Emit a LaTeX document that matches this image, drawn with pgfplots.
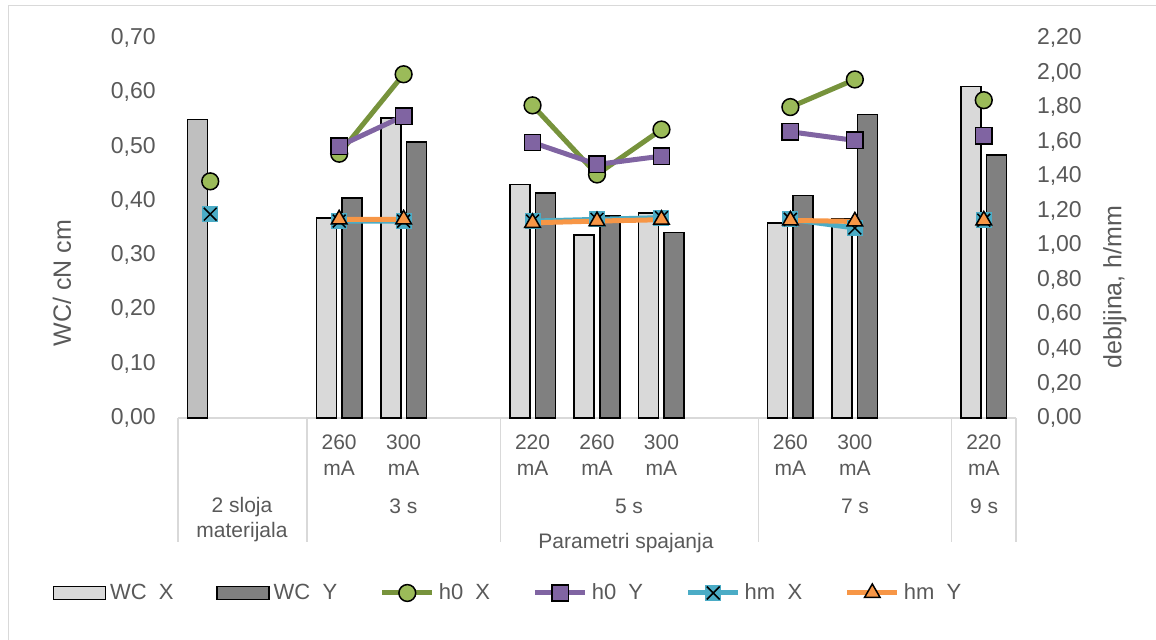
\documentclass[border=0pt]{standalone}
\usepackage{fontspec}
\setmainfont{Liberation Sans}
\usepackage{pgfplots}
\usepackage{pgfplotstable}
\pgfplotsset{compat=1.18}
\definecolor{txt}{HTML}{595959}
\definecolor{barL}{HTML}{D9D9D9}
\definecolor{barF}{HTML}{BFBFBF}
\definecolor{barD}{HTML}{808080}
\definecolor{grnL}{HTML}{77933C}
\definecolor{grnM}{HTML}{9BBB59}
\definecolor{pur}{HTML}{8064A2}
\definecolor{cya}{HTML}{4BACC6}
\definecolor{ora}{HTML}{F79646}
\definecolor{sep}{HTML}{D9D9D9}

\pgfdeclareplotmark{sqx}{%
  \pgfpathrectangle{\pgfqpoint{-\pgfplotmarksize}{-\pgfplotmarksize}}{\pgfqpoint{2\pgfplotmarksize}{2\pgfplotmarksize}}%
  \pgfusepathqfill
  \pgfpathmoveto{\pgfqpoint{-0.8\pgfplotmarksize}{-0.8\pgfplotmarksize}}%
  \pgfpathlineto{\pgfqpoint{0.8\pgfplotmarksize}{0.8\pgfplotmarksize}}%
  \pgfpathmoveto{\pgfqpoint{-0.8\pgfplotmarksize}{0.8\pgfplotmarksize}}%
  \pgfpathlineto{\pgfqpoint{0.8\pgfplotmarksize}{-0.8\pgfplotmarksize}}%
  \pgfusepathqstroke
}

\pgfplotstableread{
x   wcx    wcy    h0x   h0y    hmx    hmy
1   nan    nan    1.37  nan    1.18   nan
2   nan    nan    nan   nan    nan    nan
3   0.368  0.405  1.53  1.574  1.14   1.15
4   0.553  0.508  1.99  1.748  1.14   1.15
5   nan    nan    nan   nan    nan    nan
6   0.430  0.415  1.81  1.595  1.14   1.13
7   0.337  0.372  1.41  1.468  1.15   1.14
8   0.378  0.342  1.67  1.516  1.16   1.148
9   nan    nan    nan   nan    nan    nan
10  0.359  0.410  1.80  1.657  1.15   1.144
11  0.367  0.559  1.96  1.607  1.10   1.138
12  nan    nan    nan   nan    nan    nan
13  0.611  0.485  1.84  1.634  1.145  1.144
}\data

\begin{document}
\begin{tikzpicture}
\useasboundingbox (0,0) rectangle (578pt,320pt);
\draw[sep, line width=0.5pt] (4.25pt,0pt) -- (4.25pt,317.25pt) -- (578pt,317.25pt);

\begin{axis}[
  at={(89pt,111pt)}, anchor=south west,
  width=419pt, height=190pt, scale only axis,
  xmin=0.5, xmax=13.5, ymin=0, ymax=0.7,
  axis line style={draw=none},
  major tick length=0pt,
  ytick={0,0.1,0.2,0.3,0.4,0.5,0.6,0.7},
  yticklabel pos=left,
  yticklabel style={/pgf/number format/.cd, fixed, fixed zerofill, precision=2, use comma, assume math mode=true,
    /tikz/.cd, font=\fontsize{11.5}{13}\selectfont, text=txt, inner sep=0pt, anchor=east, xshift=-11pt},
  xtick={3,4,6,7,8,10,11,13},
  xticklabels={260\\mA,300\\mA,220\\mA,260\\mA,300\\mA,260\\mA,300\\mA,220\\mA},
  xticklabel style={align=center, font=\fontsize{10.5}{13}\selectfont, text=txt, inner sep=0pt, anchor=north, yshift=-8pt},
  clip=false,
  unbounded coords=discard,
]
\draw[sep, line width=0.6pt] (axis cs:0.5,0) -- (axis cs:13.5,0);
\draw[sep, line width=0.6pt] (axis cs:0.5,0) -- (axis cs:0.5,-0.2285);
\draw[sep, line width=0.6pt] (axis cs:2.5,0) -- (axis cs:2.5,-0.2285);
\draw[sep, line width=0.6pt] (axis cs:5.5,0) -- (axis cs:5.5,-0.2285);
\draw[sep, line width=0.6pt] (axis cs:9.5,0) -- (axis cs:9.5,-0.2285);
\draw[sep, line width=0.6pt] (axis cs:12.5,0) -- (axis cs:12.5,-0.2285);
\draw[sep, line width=0.6pt] (axis cs:13.5,0) -- (axis cs:13.5,-0.2285);
\addplot[ybar, bar width=10pt, bar shift=-6.4pt, fill=barF, draw=black, line width=0.8pt] coordinates {(1,0.55)};
\addplot[ybar, bar width=10pt, bar shift=-6.4pt, fill=barL, draw=black, line width=0.8pt] table[x=x, y=wcx] {\data};
\addplot[ybar, bar width=10pt, bar shift=6.4pt, fill=barD, draw=black, line width=0.8pt] table[x=x, y=wcy] {\data};
\end{axis}

\begin{axis}[
  at={(89pt,111pt)}, anchor=south west,
  width=419pt, height=190pt, scale only axis,
  xmin=0.5, xmax=13.5, ymin=0, ymax=2.2,
  axis line style={draw=none},
  major tick length=0pt,
  xtick=\empty,
  ytick={0,0.2,0.4,0.6,0.8,1.0,1.2,1.4,1.6,1.8,2.0,2.2},
  yticklabel pos=right,
  yticklabel style={/pgf/number format/.cd, fixed, fixed zerofill, precision=2, use comma, assume math mode=true,
    /tikz/.cd, font=\fontsize{11.5}{13}\selectfont, text=txt, inner sep=0pt, anchor=west, xshift=10.3pt},
  clip=false,
  unbounded coords=jump,
  legend columns=6,
  legend style={draw=none, fill=none, at={(-0.150,-0.4605)}, anchor=west,
    font=\fontsize{11}{13}\selectfont, text=txt, inner sep=0pt,
    nodes={inner sep=2pt},
    /tikz/every even column/.append style={column sep=19.3pt}},
  legend image code/.code={\draw[mark repeat=2, mark phase=2, #1] plot coordinates {(0pt,0pt) (12.5pt,0pt) (25pt,0pt)};},
]
\addlegendimage{legend image code/.code={\draw[fill=barL, draw=black, line width=0.7pt] (0pt,-3.2pt) rectangle (26pt,3.2pt);}}
\addlegendentry{WC\ \ X}
\addlegendimage{legend image code/.code={\draw[fill=barD, draw=black, line width=0.7pt] (0pt,-3.2pt) rectangle (26pt,3.2pt);}}
\addlegendentry{WC\ \ Y}
\addplot[grnL, line width=2.5pt, mark=*, mark size=4.2pt, mark options={fill=grnM, draw=black, line width=0.75pt, solid}] table[x=x, y=h0x] {\data};
\addlegendentry{h0\ \ X}
\addplot[pur, line width=2.5pt, mark=square*, mark size=4.1pt, mark options={fill=pur, draw=black, line width=0.75pt, solid}] table[x=x, y=h0y] {\data};
\addlegendentry{h0\ \ Y}
\addplot[cya, line width=2.5pt, mark=sqx, mark size=4pt, mark options={fill=cya, draw=black, line width=0.75pt, solid}] table[x=x, y=hmx] {\data};
\addlegendentry{hm\ \ X}
\addplot[ora, line width=2.5pt, mark=triangle*, mark size=4.5pt, mark options={fill=ora, draw=black, line width=0.75pt, solid}] table[x=x, y=hmy] {\data};
\addlegendentry{hm\ \ Y}
\end{axis}

\node[rotate=90, font=\fontsize{12.5}{14}\selectfont, text=txt] at (31pt,178.5pt) {WC/ cN cm};
\node[rotate=90, font=\fontsize{12.5}{14}\selectfont, text=txt] at (557.5pt,176.5pt) {debljina, h/mm};
\begin{scope}[every node/.style={font=\fontsize{10.5}{12.7}\selectfont, text=txt, align=center}]
\node at (121pt,60.35pt) {2 sloja\\materijala};
\node at (201.75pt,66.65pt) {3 s};
\node at (314.5pt,66.65pt) {5 s};
\node at (427.5pt,66.65pt) {7 s};
\node at (492pt,66.65pt) {9 s};
\node[anchor=base] at (313pt,45.85pt) {Parametri spajanja};
\end{scope}
\end{tikzpicture}
\end{document}
